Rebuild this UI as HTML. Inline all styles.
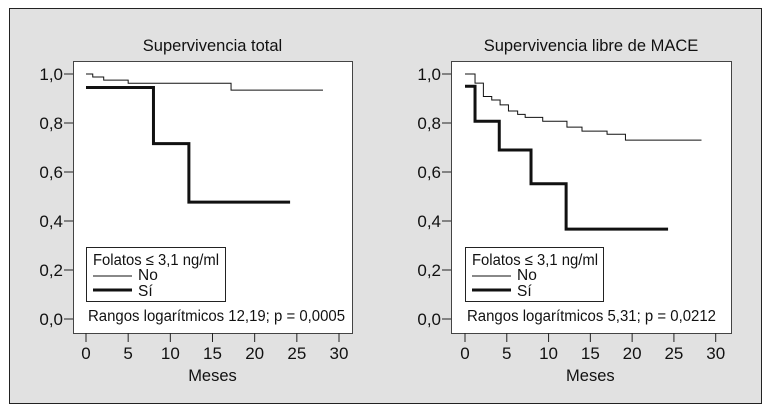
<!DOCTYPE html>
<html><head><meta charset="utf-8"><style>
body{margin:0;background:#fff;}
svg{display:block;font-family:"Liberation Sans",sans-serif;}
</style></head><body>
<svg width="768" height="407" viewBox="0 0 768 407">
<rect x="9.5" y="8.5" width="752" height="395" fill="#e1e1e1" stroke="#222" stroke-width="1"/>
<g id="chart"></g>
</svg>
<script>
const xTicks = [0,5,10,15,20,25,30];
const yTicks = [0,0.2,0.4,0.6,0.8,1.0];
const yTickLabels = ["0,0","0,2","0,4","0,6","0,8","1,0"];
const titles = ["Supervivencia total","Supervivencia libre de MACE"];
const stats = ["Rangos logarítmicos 12,19; p = 0,0005","Rangos logarítmicos 5,31; p = 0,0212"];
const leftNoT = [0,0.8,2.1,5,17.2];
const leftNoS = [1.0,0.988,0.975,0.962,0.934];
const leftNoEnd = 28.1;
const leftSiT = [0,8,12.2];
const leftSiS = [0.945,0.716,0.477];
const leftSiEnd = 24.2;
const rightNoT = [0,1.2,2.2,3.2,4.2,5.2,6.3,7.2,9.3,12.2,14.0,17.0,19.2];
const rightNoS = [1.0,0.963,0.908,0.894,0.874,0.849,0.835,0.823,0.807,0.783,0.767,0.754,0.73];
const rightNoEnd = 28.3;
const rightSiT = [0,1.2,4.1,7.9,12.1];
const rightSiS = [0.95,0.807,0.69,0.552,0.367];
const rightSiEnd = 24.3;

const NS="http://www.w3.org/2000/svg";
const root=document.getElementById('chart');
function mk(tag,attrs,parent,text){const e=document.createElementNS(NS,tag);for(const k in attrs)e.setAttribute(k,attrs[k]);if(text!==undefined)e.textContent=text;(parent||root).appendChild(e);return e;}

const panels=[
 {bx:73,bw:279,x0:86,x1:339,lg:86,lgw:139,stw:257,no:[leftNoT,leftNoS,leftNoEnd],si:[leftSiT,leftSiS,leftSiEnd]},
 {bx:451,bw:280,x0:465,x1:715.7,lg:465,lgw:138,stw:249,no:[rightNoT,rightNoS,rightNoEnd],si:[rightSiT,rightSiS,rightSiEnd]}
];
const yTop=61,yBot=333,y1=74,y0=319;
panels.forEach((p,i)=>{
 const g=mk('g',{});
 
 
 const sx=v=>p.x0+(p.x1-p.x0)*v/30;
 const sy=v=>y0-(y0-y1)*v;
 const box=mk('rect',{x:p.bx+0.5,y:yTop+0.5,width:p.bw,height:yBot-yTop,fill:'#fff',stroke:'#444','stroke-width':1},g);
 
 
 const t=mk('text',{x:p.bx+p.bw/2,y:51,'text-anchor':'middle','font-size':16.5,fill:'#111'},g,titles[i]);
 
 
 yTicks.forEach((v,j)=>{
  const y=sy(v);
  mk('line',{x1:p.bx-9,x2:p.bx,y1:y,y2:y,stroke:'#222','stroke-width':1},g);
  const l=mk('text',{x:p.bx-10,y:y+6,'text-anchor':'end','font-size':17,fill:'#111'},g,yTickLabels[j]);
  
  
 });
 xTicks.forEach(v=>{
  const x=sx(v);
  mk('line',{x1:x,x2:x,y1:yBot,y2:yBot+9,stroke:'#222','stroke-width':1},g);
  const l=mk('text',{x:x,y:359,'text-anchor':'middle','font-size':17,fill:'#111'},g,String(v));
  
  
 });
 const xt=mk('text',{x:sx(15),y:381,'text-anchor':'middle','font-size':16.5,fill:'#111'},g,'Meses');
 
 
 function step(T,S,end,w,name){
  let d='M'+sx(T[0])+','+sy(S[0]);
  for(let k=1;k<T.length;k++){d+=' H'+sx(T[k])+' V'+sy(S[k]);}
  d+=' H'+sx(end);
  const pth=mk('path',{d:d,fill:'none',stroke:'#111','stroke-width':w},g);
  
  
 }
 step(p.no[0],p.no[1],p.no[2],1,'curve-no');
 step(p.si[0],p.si[1],p.si[2],3,'curve-si');
 const lg=mk('g',{},g);
 
 
 mk('rect',{x:p.lg+0.5,y:247.5,width:p.lgw,height:54,fill:'#fff',stroke:'#222','stroke-width':1},lg);
 mk('text',{x:p.lg+7,y:265,'font-size':15.5,fill:'#111',textLength:126,lengthAdjust:'spacingAndGlyphs'},lg,'Folatos \u2264 3,1 ng/ml');
 mk('line',{x1:p.lg+7,x2:p.lg+46,y1:276,y2:276,stroke:'#111','stroke-width':1},lg);
 mk('text',{x:p.lg+52,y:280,'font-size':15.5,fill:'#111'},lg,'No');
 mk('line',{x1:p.lg+7,x2:p.lg+46,y1:290,y2:290,stroke:'#111','stroke-width':3},lg);
 mk('text',{x:p.lg+52,y:296,'font-size':15.5,fill:'#111'},lg,'Sí');
 const st=mk('text',{x:p.lg+2,y:321,'font-size':15.5,fill:'#111',textLength:p.stw,lengthAdjust:'spacingAndGlyphs'},g,stats[i]);
 
 
});
</script>
</body></html>
